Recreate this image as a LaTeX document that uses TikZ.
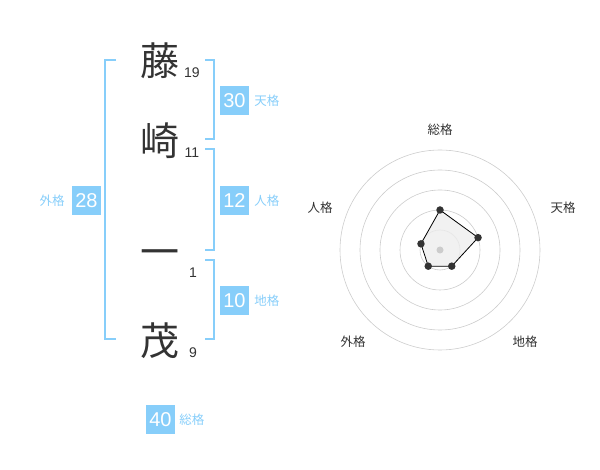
\documentclass[tikz,border=0pt]{standalone}
\usepackage{fontspec}
\setmainfont{Liberation Sans}
\newfontfamily\cjk{Noto Sans CJK JP}
\usetikzlibrary{positioning}

\definecolor{kakublue}{HTML}{87CEFA}
\definecolor{inkgray}{HTML}{333333}

\tikzset{
  kanji/.style={font=\cjk\fontsize{39}{39}\selectfont, text=inkgray, inner sep=0pt},
  strokes/.style={font=\fontsize{14}{14}\selectfont, text=inkgray, inner sep=0pt},
  kakubox/.style={fill=kakublue, text=white, minimum size=29pt, inner sep=0pt, font=\fontsize{20}{20}\selectfont},
  kakulabel/.style={text=kakublue, font=\cjk\fontsize{12.5}{12.5}\selectfont, inner sep=0pt},
  bracket/.style={draw=kakublue, line width=1.6pt},
  ring/.style={draw=black!20, line width=0.6pt},
  axislabel/.style={font=\cjk\fontsize{12.5}{12.5}\selectfont, text=inkgray, inner sep=0pt},
  dot/.style={circle, fill=inkgray, inner sep=0pt, minimum size=7.5pt},
}

\begin{document}
\begin{tikzpicture}[x=1pt,y=-1pt]
\useasboundingbox (0,0) rectangle (600,470);

% name
\node[kanji] (k1) at (160,61) {藤};
\node[kanji] (k2) at (160,141) {崎};
\node[kanji] (k3) at (160,258) {一};
\node[kanji] (k4) at (160,341) {茂};
\node[strokes] (n1) at (192,73) {19};
\node[strokes] (n2) at (192,153) {11};
\node[strokes] (n3) at (193,273) {1};
\node[strokes] (n4) at (193,353) {9};

% brackets
\draw[bracket] (116,60) -- (105,60) -- (105,339) -- (116,339);
\draw[bracket] (205,60) -- (214,60) -- (214,139) -- (205,139);
\draw[bracket] (205,149) -- (214,149) -- (214,250) -- (205,250);
\draw[bracket] (205,260) -- (214,260) -- (214,339) -- (205,339);

% kaku
\node[kakubox] (ten) at (234.5,100.5) {30};
\node[kakulabel, right=5pt of ten] (tenl) {天格};
\node[kakubox] (jin) at (234.5,200.5) {12};
\node[kakulabel, right=5pt of jin] (jinl) {人格};
\node[kakubox] (chi) at (234.5,300.5) {10};
\node[kakulabel, right=5pt of chi] (chil) {地格};
\node[kakubox] (gai) at (86.5,200.5) {28};
\node[kakulabel, left=7pt of gai] (gail) {外格};
\node[kakubox] (sou) at (160.5,419.5) {40};
\node[kakulabel, right=4pt of sou] (soul) {総格};

% radar
\coordinate (c) at (440,250);
\foreach \r in {20,40,60,80,100}
  \draw[ring] (c) circle[radius=\r pt];

\coordinate (p1) at ([shift={(90:40pt)}]c);
\coordinate (p2) at ([shift={(18:40pt)}]c);
\coordinate (p3) at ([shift={(-54:20pt)}]c);
\coordinate (p4) at ([shift={(-126:20pt)}]c);
\coordinate (p5) at ([shift={(162:20pt)}]c);
\draw[fill=black!7, fill opacity=0.8, line width=0.8pt] (p1) -- (p2) -- (p3) -- (p4) -- (p5) -- cycle;
\node[circle, fill=black!20, inner sep=0pt, minimum size=7pt] (mid) at (c) {};
\foreach \p in {p1,p2,p3,p4,p5}
  \node[dot] at (\p) {};

\node[axislabel] (a1) at (440,130) {総格};
\node[axislabel] (a2) at (563,208) {天格};
\node[axislabel] (a3) at (525,342) {地格};
\node[axislabel] (a4) at (353,342) {外格};
\node[axislabel] (a5) at (320,208) {人格};

\end{tikzpicture}
\end{document}
